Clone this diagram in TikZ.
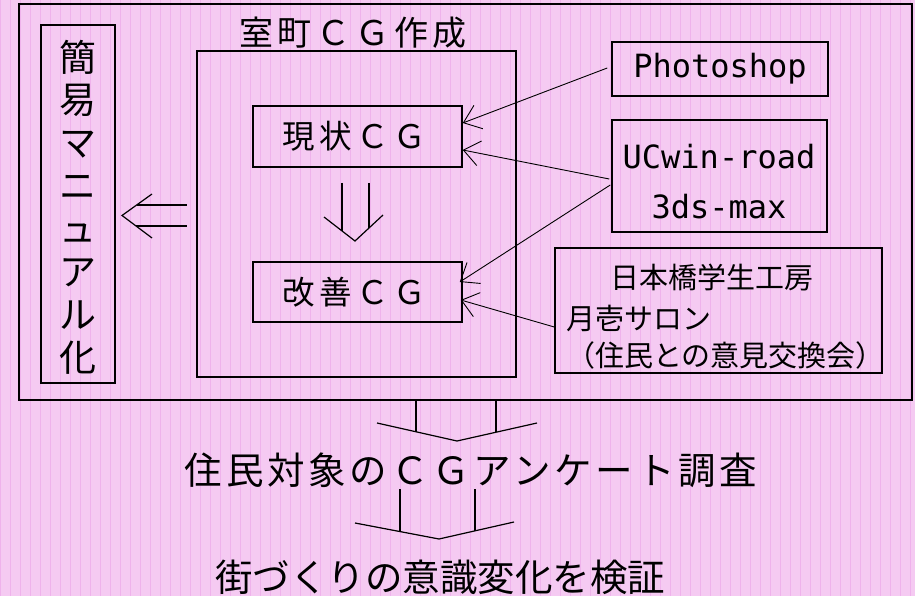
\documentclass[tikz,border=0pt]{standalone}
\usepackage{fontspec}
\usetikzlibrary{arrows.meta,calc}
\newfontfamily\jp{Noto Sans CJK JP}
\newfontfamily\jpsp[LetterSpace=14]{Noto Sans CJK JP}
\newfontfamily\jpspb[LetterSpace=10]{Noto Sans CJK JP}
\newfontfamily\monof{DejaVu Sans Mono}
\definecolor{bgpink}{RGB}{245,202,242}
\definecolor{gridpink}{RGB}{239,178,236}
\tikzset{
  box/.style={draw=black, line width=1.5pt, inner sep=0pt},
  conn/.style={draw=black, line width=0.9pt, -{Straight Barb[length=16pt,width=25pt,line width=0.9pt]}},
  shape line/.style={draw=black, line width=1.2pt},
}
\begin{document}
\begin{tikzpicture}[x=1pt,y=-1pt]
\useasboundingbox (0,0) rectangle (915,596);
\fill[bgpink] (0,0) rectangle (915,596);
\draw[gridpink, line width=1pt, shift={(0.5,0.5)}] (0,0) grid[step=10] (914,595);

% outer frame
\node[box, minimum width=893, minimum height=396] (outer) at (465.5,202) {};
% left box with vertical text
\node[box, minimum width=74, minimum height=358] (man) at (78,204) {};
\node[align=center, inner sep=0pt, font={\jp\fontsize{37}{42.9}\selectfont}] (mantext) at (78,207)
  {簡\\易\\マ\\ニ\\ュ\\ア\\ル\\化};

% inner box
\node[box, minimum width=319, minimum height=326] (muro) at (356.5,214) {};
\node[inner sep=0pt] (murotitle) at (353,33) {\jpsp\fontsize{34}{38}\selectfont 室町ＣＧ作成};

\node[box, minimum width=209, minimum height=61] (gen) at (357.5,136.5)
  {\jpsp\fontsize{32.5}{36}\selectfont 現状ＣＧ\hspace*{6pt}};
\node[box, minimum width=209, minimum height=60] (kai) at (357.5,292)
  {\jpsp\fontsize{32.5}{36}\selectfont 改善ＣＧ\hspace*{6pt}};

% right boxes
\node[box, minimum width=216, minimum height=54] (ps) at (720,69)
  {\monof\fontsize{32}{38}\selectfont Photoshop};
\node[box, minimum width=215, minimum height=112] (uc) at (719.5,176) {};
\node[inner sep=0pt] (uc1) at (719,157) {\monof\fontsize{32}{38}\selectfont UCwin-road};
\node[inner sep=0pt] (uc2) at (719,207) {\monof\fontsize{32}{38}\selectfont 3ds-max};

\node[box, minimum width=327, minimum height=125] (nb) at (718.5,310.5) {};
\node[inner sep=0pt] (nb1) at (712,277) {\jp\fontsize{29}{32}\selectfont 日本橋学生工房};
\node[inner sep=0pt, anchor=west] (nb2) at (566,318) {\jp\fontsize{29}{32}\selectfont 月壱サロン};
\node[inner sep=0pt, anchor=west] (nb3) at (566,355) {\jp\fontsize{29}{32}\selectfont （住民との意見交換会）};

% connectors
\draw[conn] ([xshift=-4pt,yshift=1pt]ps.west) -- ([yshift=13.5pt]gen.east);
\draw[conn] ([xshift=-2pt,yshift=-3pt]uc.west) -- ([yshift=-13.5pt]gen.east);
\draw[conn] ([xshift=-1pt,yshift=-9pt]uc.west) -- ([xshift=-3pt,yshift=10pt]kai.east);
\draw[conn] ([yshift=-16.5pt]nb.west) -- ([xshift=-2pt,yshift=-8pt]kai.east);

% left hollow arrow (muro -> man)
\draw[shape line] (152,194) -- (122,215.5) -- (152,238);
\draw[shape line] (136.6,205) -- (187,205);
\draw[shape line] (136.2,226) -- (187,226);

% middle down arrow (gen -> kai)
\draw[shape line] (324,217) -- (355,241) -- (383,215);
\draw[shape line] (342,183) -- (342,231);
\draw[shape line] (369,183) -- (369,228);

% bottom arrow 1
\draw[shape line] (377,423) -- (457,441) -- (537,423);
\draw[shape line] (416,401) -- (416,431.8);
\draw[shape line] (496,401) -- (496,431.8);

\node[inner sep=0pt] (survey) at (471,470)
  {\jpspb\fontsize{37.5}{42}\selectfont 住民対象のＣＧアンケート調査};

% bottom arrow 2
\draw[shape line] (355,523) -- (439,539) -- (514,522);
\draw[shape line] (400,489) -- (400,531.6);
\draw[shape line] (475,489) -- (475,530.8);

\node[inner sep=0pt] (verify) at (440,577)
  {\jp\fontsize{37.5}{42}\selectfont 街づくりの意識変化を検証};
\end{tikzpicture}
\end{document}
